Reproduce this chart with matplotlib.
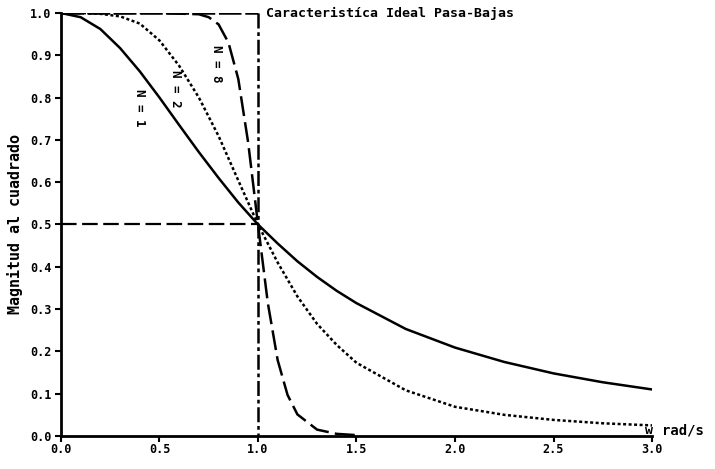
import matplotlib
matplotlib.use("Agg")
import matplotlib.pyplot as plt

# Squared magnitude of low-pass responses, read at selected frequencies (rad/s)
w_n1 = [0.0, 0.1, 0.2, 0.3, 0.4, 0.5, 0.6, 0.7, 0.8, 0.9, 1.0, 1.1, 1.2, 1.3,
        1.4, 1.5, 1.75, 2.0, 2.25, 2.5, 2.75, 3.0]
mag_n1 = [1.0, 0.99, 0.962, 0.917, 0.862, 0.80, 0.735, 0.671, 0.61, 0.552, 0.5,
          0.455, 0.413, 0.376, 0.343, 0.314, 0.253, 0.209, 0.175, 0.148, 0.127, 0.110]

w_n2 = w_n1
mag_n2 = [1.0, 1.0, 0.998, 0.992, 0.975, 0.935, 0.875, 0.80, 0.709, 0.604, 0.5,
          0.41, 0.33, 0.265, 0.215, 0.173, 0.108, 0.069, 0.050, 0.038, 0.030, 0.025]

w_n8 = [0.0, 0.5, 0.7, 0.75, 0.8, 0.85, 0.9, 0.95, 1.0, 1.05, 1.1, 1.15, 1.2,
        1.3, 1.4, 1.5]
mag_n8 = [1.0, 1.0, 0.997, 0.99, 0.973, 0.93, 0.844, 0.694, 0.5, 0.314, 0.179,
          0.097, 0.051, 0.015, 0.005, 0.002]

# Ideal low-pass characteristic and the half-power level
ideal_w = [0.0, 1.0, 1.0]
ideal_mag = [1.0, 1.0, 0.0]
half_w = [0.0, 1.0]
half_mag = [0.5, 0.5]

x_ticks = [0.0, 0.5, 1.0, 1.5, 2.0, 2.5, 3.0]
y_ticks = [0.0, 0.1, 0.2, 0.3, 0.4, 0.5, 0.6, 0.7, 0.8, 0.9, 1.0]

fig = plt.figure(figsize=(7.15, 4.69), dpi=100)
ax = fig.add_axes([0.0853, 0.0704, 0.8266, 0.9019])

# top edge of the ideal response (dashed) and its vertical cut-off (dash-dot)
ax.plot(ideal_w[:2], ideal_mag[:2], color="black", lw=1.8, dashes=(9, 1.5))
ax.plot(ideal_w[1:], ideal_mag[1:], color="black", lw=1.8, dashes=(6, 1.5, 1.5, 1.5))
ax.plot(half_w, half_mag, color="black", lw=1.6, dashes=(7, 2.5))

ax.plot(w_n1, mag_n1, color="black", lw=1.8)
ax.plot(w_n2, mag_n2, color="black", lw=1.8, dashes=(1.2, 1.0))
ax.plot(w_n8, mag_n8, color="black", lw=1.8, dashes=(8, 2.5))

bold = dict(fontweight="bold", family="DejaVu Sans Mono")
ax.text(0.40, 0.775, "N = 1", rotation=-90, ha="center", va="center", fontsize=9, **bold)
ax.text(0.58, 0.82, "N = 2", rotation=-90, ha="center", va="center", fontsize=9, **bold)
ax.text(0.787, 0.88, "N = 8", rotation=-90, ha="center", va="center", fontsize=9, **bold)

ax.text(1.04, 1.0, "Caracteristíca Ideal Pasa-Bajas", ha="left", va="center",
        fontsize=9.5, **bold)
ax.text(2.965, 0.013, "w", ha="left", va="center", fontsize=9.5, **bold,
        clip_on=False)
ax.text(3.05, 0.012, "rad/s", ha="left", va="center", fontsize=10, **bold,
        clip_on=False)

ax.set_xlim(0, 3.0)
ax.set_ylim(0, 1.0)
ax.set_xticks(x_ticks)
ax.set_yticks(y_ticks)
ax.set_xticklabels([f"{v:.1f}" for v in x_ticks], fontsize=8.5, **bold)
ax.set_yticklabels([f"{v:.1f}" for v in y_ticks], fontsize=8.5, **bold)
ax.tick_params(direction="out", length=4, width=1.5, pad=3)
ax.tick_params(axis="x", pad=1)
ax.set_ylabel("Magnitud al cuadrado", fontsize=10.8, labelpad=5, **bold)

for side in ("top", "right"):
    ax.spines[side].set_visible(False)
for side in ("left", "bottom"):
    ax.spines[side].set_linewidth(2)

fig.savefig("out.png", dpi=100)
